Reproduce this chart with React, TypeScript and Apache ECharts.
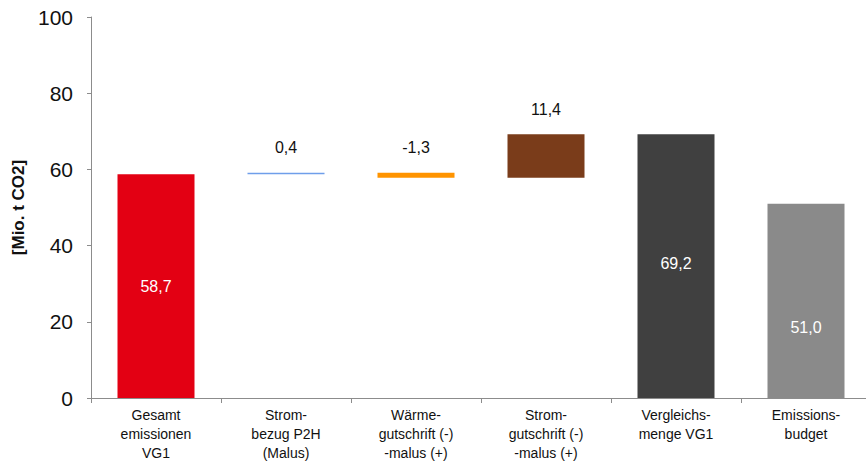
import React, { useEffect, useRef } from "react";
import * as echarts from "echarts";

const categories = [
  "Gesamt\nemissionen\nVG1",
  "Strom-\nbezug P2H\n(Malus)",
  "Wärme-\ngutschrift (-)\n-malus (+)",
  "Strom-\ngutschrift (-)\n-malus (+)",
  "Vergleichs-\nmenge VG1",
  "Emissions-\nbudget",
];
const values = [58.7, 0.4, -1.3, 11.4, 69.2, 51.0];
const kinds = ["total", "delta", "delta", "delta", "total", "total"];
const colors = ["#E30013", "#6F9EEA", "#FF9400", "#7A3C1A", "#404040", "#8A8A8A"];
const yTicks = { min: 0, max: 100, interval: 20 };

const fmt = (v: number) => v.toFixed(1).replace(".", ",");

export default function App() {
  const ref = useRef<HTMLDivElement>(null);
  useEffect(() => {
    if (!ref.current) return;
    const chart = echarts.init(ref.current, null, { renderer: "svg" });
    let running = 0;
    const base: number[] = [];
    const heights: number[] = [];
    values.forEach((v, i) => {
      if (kinds[i] === "total") {
        base.push(0);
        heights.push(v);
        running = v;
      } else {
        if (v >= 0) {
          base.push(running);
        } else {
          base.push(running + v);
        }
        heights.push(Math.abs(v));
        running += v;
      }
    });
    const font = "Liberation Sans, Arial, sans-serif";
    chart.setOption({
      animation: false,
      grid: { left: 91, top: 17, width: 780, height: 381, outerBoundsMode: "none", containLabel: false },
      xAxis: {
        type: "category",
        data: categories,
        axisLine: { lineStyle: { color: "#8C8C8C", width: 1 } },
        axisTick: { show: true, length: 5, lineStyle: { color: "#8C8C8C" } },
        axisLabel: {
          interval: 0,
          color: "#111",
          fontFamily: font,
          fontSize: 14,
          lineHeight: 19,
          margin: 7,
        },
      },
      yAxis: {
        type: "value",
        min: yTicks.min,
        max: yTicks.max,
        interval: yTicks.interval,
        name: "[Mio. t CO2]",
        nameLocation: "middle",
        nameGap: 63,
        nameRotate: 90,
        nameTextStyle: { fontFamily: font, fontSize: 17, fontWeight: "bold", color: "#111" },
        axisLine: { show: true, lineStyle: { color: "#8C8C8C", width: 1 } },
        axisTick: { show: true, length: 4, lineStyle: { color: "#8C8C8C" } },
        axisLabel: { color: "#111", fontFamily: font, fontSize: 21, margin: 18 },
        splitLine: { show: false },
      },
      series: [
        {
          type: "bar",
          stack: "w",
          data: base,
          itemStyle: { color: "transparent" },
          emphasis: { disabled: true },
          silent: true,
          barWidth: 77,
        },
        {
          type: "bar",
          stack: "w",
          barWidth: 77,
          data: heights.map((h, i) => {
            const isTotal = kinds[i] === "total";
            return {
              value: h,
              itemStyle: { color: colors[i] },
              label: {
                show: true,
                position: isTotal ? "inside" : "top",
                distance: 17,
                offset: i === 5 ? [0, 27] : i === 4 ? [0, -3] : [0, 0],
                color: isTotal ? "#fff" : "#111",
                fontFamily: font,
                fontSize: 16,
                formatter: () => fmt(values[i]),
              },
            };
          }),
        },
      ],
    });
    return () => chart.dispose();
  }, []);
  return (
    <div
      ref={ref}
      style={{ position: "fixed", left: 0, top: 0, width: 866, height: 467, background: "#fff" }}
    />
  );
}
